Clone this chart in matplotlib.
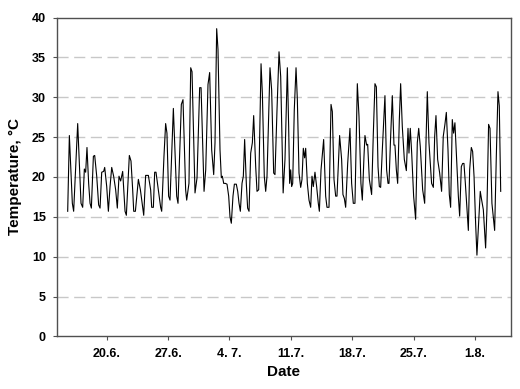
import matplotlib
matplotlib.use("Agg")
import matplotlib.pyplot as plt

# days since 20.6., temperature in °C
days = [-4.45, -4.26, -3.92, -3.77, -3.31, -2.93, -2.74, -2.55, -2.40, -2.25,
        -2.06, -1.90, -1.75, -1.52, -1.37, -1.14, -0.92, -0.76, -0.57, -0.35,
        -0.23, 0.00, 0.19, 0.38, 0.57, 0.79, 1.02, 1.21, 1.40, 1.59,
        1.82, 2.09, 2.24, 2.39, 2.58, 2.77, 2.96, 3.08, 3.27, 3.61,
        3.84, 4.06, 4.22, 4.44, 4.75, 5.01, 5.13, 5.32, 5.47, 5.62,
        5.89, 6.15, 6.27, 6.53, 6.72, 6.87, 7.06, 7.22, 7.60, 7.98,
        8.13, 8.51, 8.70, 9.00, 9.12, 9.38, 9.58, 9.73, 10.07, 10.30,
        10.60, 10.76, 11.10, 11.29, 11.55, 11.74, 11.97, 12.20, 12.35, 12.54,
        12.69, 12.92, 13.07, 13.19, 13.34, 13.53, 13.72, 13.91, 14.06, 14.21,
        14.40, 14.56, 14.78, 14.94, 15.09, 15.24, 15.43, 15.58, 15.73, 15.92,
        16.07, 16.23, 16.42, 16.61, 16.76, 16.99, 17.14, 17.33, 17.60, 17.75,
        17.97, 18.13, 18.28, 18.62, 18.81, 19.04, 19.19, 19.42, 19.65, 19.84,
        20.12, 20.33, 20.60, 20.75, 20.86, 20.98, 21.09, 21.21, 21.39, 21.59,
        21.74, 21.93, 22.12, 22.27, 22.42, 22.57, 22.69, 22.88, 23.07, 23.26,
        23.41, 23.56, 23.75, 23.94, 24.13, 24.25, 24.44, 24.74, 24.97, 25.12,
        25.35, 25.58, 25.73, 25.92, 26.11, 26.26, 26.56, 26.79, 26.94, 27.10,
        27.25, 27.48, 27.74, 27.93, 28.12, 28.31, 28.58, 28.77, 28.99, 29.15,
        29.34, 29.45, 29.64, 29.76, 29.95, 30.21, 30.40, 30.59, 30.75, 30.94,
        31.09, 31.24, 31.43, 31.73, 31.92, 32.08, 32.19, 32.38, 32.57, 32.76,
        32.87, 33.03, 33.18, 33.37, 33.52, 33.71, 33.94, 34.17, 34.36, 34.47,
        34.62, 34.78, 35.00, 35.23, 35.42, 35.58, 35.76, 36.03, 36.26, 36.41,
        36.56, 36.75, 37.05, 37.25, 37.40, 37.55, 37.74, 37.97, 38.19, 38.38,
        38.57, 38.73, 38.92, 39.07, 39.22, 39.41, 39.56, 39.71, 39.90, 40.10,
        40.25, 40.44, 40.59, 40.74, 40.90, 41.09, 41.24, 41.39, 41.58, 41.73,
        41.89, 42.07, 42.22, 42.41, 42.60, 42.76, 42.95, 43.21, 43.36, 43.55,
        43.71, 43.93, 44.24, 44.43, 44.62, 44.77, 44.93]

temps = [15.7, 25.2, 16.7, 15.7, 26.7, 16.7, 16.2, 21.0, 20.6, 23.7,
         19.2, 16.7, 16.1, 22.6, 22.7, 20.1, 16.5, 16.1, 20.6, 20.7,
         21.2, 18.8, 15.7, 18.8, 21.2, 20.1, 18.4, 16.1, 20.1, 19.5,
         20.7, 15.7, 15.2, 18.4, 22.7, 22.0, 18.4, 15.7, 15.7, 19.7,
         18.4, 16.5, 15.2, 20.2, 20.2, 18.4, 16.2, 16.2, 20.6, 20.6,
         18.4, 16.2, 15.7, 22.6, 26.7, 25.5, 17.6, 17.1, 28.6, 17.6,
         16.7, 29.1, 29.7, 18.4, 17.1, 19.2, 33.7, 33.2, 18.0, 19.9,
         31.2, 31.2, 18.2, 20.9, 31.6, 33.1, 23.4, 20.3, 24.3, 38.6,
         36.0, 23.4, 19.9, 20.1, 19.2, 19.2, 19.1, 17.6, 15.0, 14.2,
         17.6, 19.1, 19.1, 18.2, 16.7, 15.7, 19.2, 20.1, 24.7, 19.2,
         16.1, 15.7, 23.0, 24.3, 27.7, 21.3, 18.2, 18.4, 34.2, 30.5,
         20.1, 18.2, 20.1, 33.7, 30.9, 20.5, 20.3, 28.4, 35.7, 32.6,
         18.0, 22.2, 33.7, 26.3, 19.2, 20.9, 18.8, 19.2, 28.4, 33.7,
         29.7, 20.5, 18.7, 19.7, 23.6, 22.4, 23.6, 19.2, 17.1, 16.2,
         20.1, 18.8, 20.6, 18.8, 16.7, 15.7, 20.9, 24.7, 17.6, 16.2,
         16.2, 29.1, 28.2, 19.7, 17.6, 17.6, 25.2, 22.2, 17.8, 17.3,
         16.2, 21.7, 26.1, 19.2, 16.7, 16.7, 31.7, 27.6, 19.2, 17.1,
         22.6, 25.2, 24.0, 24.1, 19.7, 17.8, 25.3, 31.7, 31.3, 21.3,
         18.8, 18.7, 23.4, 30.2, 20.9, 19.2, 19.2, 25.1, 30.2, 24.0,
         24.0, 20.9, 19.2, 27.2, 31.7, 26.3, 22.2, 20.8, 26.1, 23.0,
         26.1, 23.0, 17.6, 14.7, 24.3, 26.1, 23.8, 18.4, 16.7, 24.3,
         30.7, 24.3, 19.2, 18.7, 25.1, 27.7, 22.2, 20.5, 18.2, 25.1,
         26.6, 28.1, 23.4, 17.8, 16.2, 27.2, 25.5, 26.8, 22.2, 17.6,
         15.1, 21.3, 21.7, 21.7, 19.2, 15.9, 13.3, 20.9, 23.7, 23.2,
         20.1, 14.2, 10.2, 14.2, 18.2, 17.1, 15.9, 11.1, 15.9, 26.6,
         26.1, 16.7, 13.3, 22.6, 30.7, 28.9, 18.2]

tick_days = [0, 7, 14, 21, 28, 35, 42]
tick_labels = ['20.6.', '27.6.', '4. 7.', '11.7.', '18.7.', '25.7.', '1.8.']

plt.rcParams['font.family'] = ['Liberation Sans', 'DejaVu Sans']

fig = plt.figure(figsize=(5.2, 3.89), dpi=100)
ax = fig.add_axes([0.1096, 0.135, 0.8725, 0.82])

for y in range(5, 40, 5):
    ax.axhline(y, color='#c8c8c8', lw=1.0, ls=(0, (8, 4)), zorder=0)

ax.plot(days, temps, color='black', lw=0.8)

ax.set_xlim(-5.67, 46.07)
ax.set_ylim(0, 40)
ax.set_yticks(range(0, 41, 5))
ax.set_xticks(tick_days)
ax.set_xticklabels(tick_labels)

for s in ax.spines.values():
    s.set_color('#505050')
    s.set_linewidth(1.0)
ax.tick_params(direction='out', length=3, width=0.8, color='#505050',
               labelsize=9, pad=5)
for lbl in ax.get_xticklabels() + ax.get_yticklabels():
    lbl.set_fontweight('bold')

ax.set_xlabel('Date', fontsize=11, fontweight='bold', labelpad=4)
ax.set_ylabel('Temperature, °C', fontsize=11, fontweight='bold', labelpad=7)

fig.savefig('out.png', dpi=100)
